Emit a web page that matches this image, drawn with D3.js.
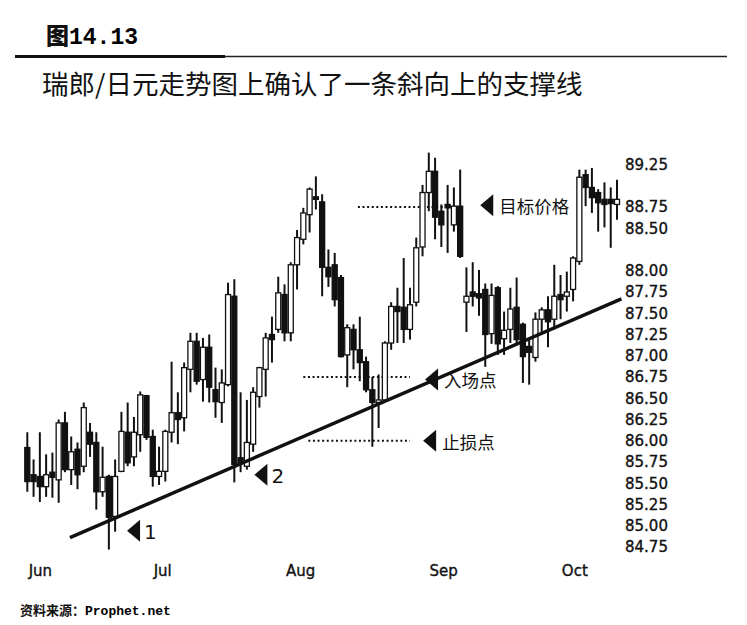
<!DOCTYPE html>
<html lang="zh">
<head>
<meta charset="UTF-8">
<title>图14.13 瑞郎/日元走势图</title>
<script src="https://d3js.org/d3.v7.min.js"></script>
<style>
  body { margin: 0; background: #fff; }
  svg { display: block; }
  .cjk { font-family: "Noto Sans CJK SC", sans-serif; fill: #111; }
  .axis text { font-family: "DejaVu Sans", sans-serif; fill: #111; stroke: #111; stroke-width: 0.35px; }
  .y.axis text { font-size: 15px; }
  .x.axis text { font-size: 15px; }
</style>
</head>
<body>
<svg width="747" height="625"></svg>
<script>
// daily CHF/JPY candles, Jun..Oct
const opens = [85.92,85.60,85.58,85.46,85.63,85.54,86.21,85.66,85.90,85.70,
  86.10,85.98,85.40,85.58,85.11,85.64,86.10,85.81,86.07,86.53,
  86.05,85.58,85.64,86.10,86.33,86.27,86.84,87.17,86.72,87.10,
  86.60,86.45,86.66,87.70,85.80,85.70,85.96,86.52,86.84,87.25,
  87.31,87.72,87.27,88.07,88.37,88.66,88.87,88.81,88.04,88.07,
  87.92,87.01,87.31,87.07,86.93,86.60,86.45,86.48,87.15,87.58,
  87.57,87.31,87.63,88.28,88.92,89.17,88.70,88.78,88.54,88.76,
  87.63,87.75,87.73,87.78,87.26,87.80,87.20,87.31,87.57,87.37,
  87.11,86.98,87.43,87.54,87.43,87.72,87.70,87.78,88.11,89.13,
  88.98,88.92,88.84,88.84,88.78];
const highs = [86.10,85.78,86.10,85.84,85.86,86.25,86.34,86.05,85.98,86.45,
  86.21,86.10,85.93,85.60,85.78,86.34,86.45,86.28,86.58,86.54,
  86.13,85.93,86.13,86.93,86.57,86.92,87.27,87.27,87.21,87.25,
  86.86,86.84,87.86,87.90,86.57,86.48,86.63,86.87,87.27,87.46,
  87.93,87.84,88.10,88.48,88.74,88.98,89.11,88.90,88.25,88.21,
  87.95,87.37,87.37,87.46,86.99,86.75,86.78,87.17,87.63,87.80,
  88.15,87.80,88.39,89.01,89.39,89.33,88.78,89.01,88.98,89.19,
  88.04,88.10,88.01,87.85,87.85,87.82,87.52,87.80,87.92,87.39,
  87.19,87.51,87.57,87.70,88.07,87.95,87.99,88.17,89.19,89.19,
  89.21,88.96,89.04,88.98,89.07];
const lows = [85.40,85.34,85.28,85.34,85.33,85.27,85.63,85.48,85.43,85.63,
  85.81,85.19,85.34,84.72,84.93,85.63,85.70,85.70,85.87,86.01,
  85.46,85.48,85.52,85.98,85.96,86.11,86.57,86.66,86.46,86.45,
  86.27,86.21,86.64,85.51,85.63,85.66,85.87,86.39,86.52,86.92,
  87.27,87.17,87.17,87.78,88.31,88.45,88.72,87.70,87.81,87.58,
  86.98,86.63,86.84,86.70,86.57,85.93,86.15,86.46,87.07,87.15,
  87.15,87.19,87.58,88.17,88.70,88.37,88.28,88.21,88.46,88.15,
  87.28,87.58,87.47,86.87,87.14,87.01,87.01,87.15,87.13,86.68,
  86.66,86.93,87.28,87.10,87.31,87.43,87.52,87.64,88.07,88.76,
  88.68,88.46,88.51,88.27,88.60];
const closes = [85.52,85.52,85.46,85.60,85.57,86.21,85.66,85.87,85.60,86.39,
  85.96,85.40,85.57,85.10,85.58,86.11,85.74,86.10,86.54,86.04,
  85.58,85.64,86.11,86.33,86.25,86.86,87.17,86.70,87.10,86.63,
  86.46,86.68,87.72,85.72,85.74,85.98,86.57,86.86,87.21,87.19,
  87.74,87.27,88.07,88.39,88.68,88.96,88.84,88.04,87.93,87.66,
  86.99,87.33,87.07,86.92,86.60,86.45,86.48,87.15,87.58,87.52,
  87.31,87.60,88.27,88.92,89.17,88.63,88.54,88.74,88.76,88.17,
  87.70,87.70,87.68,87.25,87.71,87.14,87.30,87.55,87.19,86.99,
  87.04,87.43,87.54,87.40,87.70,87.66,87.75,88.15,89.10,88.98,
  88.86,88.80,88.78,88.79,88.84];

const priceTicks = [89.25, 88.75, 88.50, 88.00, 87.75, 87.50, 87.25, 87.00,
  86.75, 86.50, 86.25, 86.00, 85.75, 85.50, 85.25, 85.00, 84.75];
const monthLabels = ["Jun", "Jul", "Aug", "Sep", "Oct"];
const monthPos = [2, 21.5, 43.5, 66.3, 87.2];   // bar index under each label

// rising support line (bar index, price)
const supportIdx = [6.8, 94.7];
const supportPrice = [84.86, 87.67];

// horizontal levels with arrow labels
const levelNames = ["目标价格", "入场点", "止损点"];
const levelPrices = [88.75, 86.75, 86.00];
const levelFrom = [52.7, 44.0, 44.8];
const levelTo = [69.5, 61.0, 61.0];
const levelArrowIdx = [72.2, 63.4, 63.1];
const levelArrowPrice = [88.77, 86.72, 86.00];

// touches of the support line
const touchLabels = ["1", "2"];
const touchIdx = [15.9, 36.2];
const touchPrice = [84.94, 85.60];

const svg = d3.select("svg");

const x = d3.scaleLinear().domain([0, opens.length - 1]).range([27.3, 617]);
const y = d3.scaleLinear().domain([84.75, 89.25]).range([547, 164.5]);

// header
svg.append("text")
  .attr("x", 46).attr("y", 44)
  .style("font-size", "23px").style("font-weight", "bold")
  .call(t => {
    t.append("tspan").attr("class", "cjk").style("font-weight", "900").text("图");
    t.append("tspan").style("font-family", "'Liberation Mono', monospace").text("14.13");
  });

svg.append("line").attr("x1", 15).attr("x2", 225).attr("y1", 56.5).attr("y2", 56.5)
  .attr("stroke", "#111").attr("stroke-width", 3);
svg.append("line").attr("x1", 225).attr("x2", 727).attr("y1", 56.5).attr("y2", 56.5)
  .attr("stroke", "#222").attr("stroke-width", 1.5);

svg.append("text").attr("class", "cjk")
  .attr("x", 42).attr("y", 94)
  .style("font-size", "26.5px")
  .text("瑞郎/日元走势图上确认了一条斜向上的支撑线");

// dotted levels
svg.append("g").selectAll("line")
  .data(levelPrices)
  .join("line")
  .attr("x1", (d, i) => x(levelFrom[i]))
  .attr("x2", (d, i) => x(levelTo[i]))
  .attr("y1", d => y(d)).attr("y2", d => y(d))
  .attr("stroke", "#111").attr("stroke-width", 2)
  .attr("stroke-dasharray", "2,2.6");

// candles
const idx = d3.range(opens.length);
const candles = svg.append("g").selectAll("g").data(idx).join("g");

candles.append("line")
  .attr("x1", i => x(i)).attr("x2", i => x(i))
  .attr("y1", i => y(highs[i])).attr("y2", i => y(lows[i]))
  .attr("stroke", "#111").attr("stroke-width", 2);

candles.append("rect")
  .attr("x", i => x(i) - 2.5)
  .attr("width", 5)
  .attr("y", i => y(Math.max(opens[i], closes[i])))
  .attr("height", i => Math.max(2, Math.abs(y(opens[i]) - y(closes[i]))))
  .attr("fill", i => closes[i] >= opens[i] ? "#fff" : "#111")
  .attr("stroke", "#111").attr("stroke-width", 1.3);

// support line
svg.append("line")
  .attr("x1", x(supportIdx[0])).attr("y1", y(supportPrice[0]))
  .attr("x2", x(supportIdx[1])).attr("y2", y(supportPrice[1]))
  .attr("stroke", "#111").attr("stroke-width", 3.5);

const arrow = (px, py) => `M${px},${py}L${px + 13},${py - 11}L${px + 13},${py + 11}Z`;

// level arrows + labels
const lv = svg.append("g").selectAll("g").data(levelNames).join("g");
lv.append("path")
  .attr("d", (d, i) => arrow(x(levelArrowIdx[i]), y(levelArrowPrice[i])))
  .attr("fill", "#111");
lv.append("text").attr("class", "cjk")
  .attr("x", (d, i) => x(levelArrowIdx[i]) + 19)
  .attr("y", (d, i) => y(levelArrowPrice[i]) + 3)
  .attr("dominant-baseline", "middle")
  .style("font-size", "17.5px")
  .text(d => d);

// touch arrows
const tc = svg.append("g").selectAll("g").data(touchLabels).join("g");
tc.append("path")
  .attr("d", (d, i) => arrow(x(touchIdx[i]), y(touchPrice[i])))
  .attr("fill", "#111");
tc.append("text")
  .attr("x", (d, i) => x(touchIdx[i]) + 17)
  .attr("y", (d, i) => y(touchPrice[i]) + 3)
  .attr("dominant-baseline", "middle")
  .style("font-family", "'DejaVu Sans', sans-serif")
  .style("font-size", "20px").style("fill", "#111")
  .text(d => d);

// axes
const yAxis = svg.append("g").attr("class", "y axis")
  .attr("transform", "translate(625,0)")
  .call(d3.axisRight(y).tickValues(priceTicks).tickSize(0).tickPadding(0)
    .tickFormat(d3.format(".2f")));
yAxis.select(".domain").remove();

const xAxis = svg.append("g").attr("class", "x axis")
  .attr("transform", "translate(0,562)")
  .call(d3.axisBottom(x).tickValues(monthPos).tickSize(0).tickPadding(3)
    .tickFormat((d, i) => monthLabels[i]));
xAxis.select(".domain").remove();

// source note
svg.append("text")
  .attr("x", 20).attr("y", 615)
  .style("font-size", "13px").style("font-weight", "bold")
  .call(t => {
    t.append("tspan").attr("class", "cjk").text("资料来源：");
    t.append("tspan").style("font-family", "'Liberation Mono', monospace").text("Prophet.net");
  });
</script>
</body>
</html>
